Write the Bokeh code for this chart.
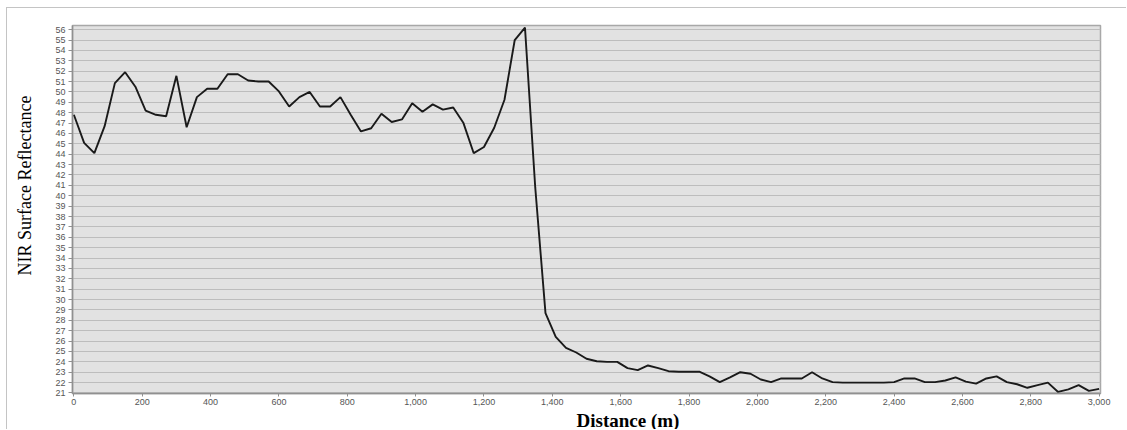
from bokeh.plotting import figure
from bokeh.models import Range1d, FixedTicker, NumeralTickFormatter, Title
from bokeh.embed import file_html
from bokeh.resources import INLINE

distance_m = [0, 30, 60, 90, 120, 150, 180, 210, 240, 270,
              300, 330, 360, 390, 420, 450, 480, 510, 540, 570,
              600, 630, 660, 690, 720, 750, 780, 810, 840, 870,
              900, 930, 960, 990, 1020, 1050, 1080, 1110, 1140, 1170,
              1200, 1230, 1260, 1290, 1320, 1350, 1380, 1410, 1440, 1470,
              1500, 1530, 1560, 1590, 1620, 1650, 1680, 1710, 1740, 1770,
              1800, 1830, 1860, 1890, 1920, 1950, 1980, 2010, 2040, 2070,
              2100, 2130, 2160, 2190, 2220, 2250, 2280, 2310, 2340, 2370,
              2400, 2430, 2460, 2490, 2520, 2550, 2580, 2610, 2640, 2670,
              2700, 2730, 2760, 2790, 2820, 2850, 2880, 2910, 2940, 2970,
              3000]

nir_reflectance = [47.8, 45.1, 44.1, 46.7, 50.85, 51.9, 50.5, 48.2, 47.8, 47.66,
                   51.55, 46.6, 49.5, 50.3, 50.3, 51.7, 51.7, 51.1, 51.0, 51.0,
                   50.05, 48.6, 49.5, 50.0, 48.6, 48.6, 49.5, 47.8, 46.2, 46.5,
                   47.9, 47.1, 47.35, 48.9, 48.1, 48.8, 48.3, 48.5, 47.0, 44.1,
                   44.7, 46.55, 49.25, 55.0, 56.2, 40.8, 28.7, 26.4, 25.35, 24.9,
                   24.3, 24.06, 24.0, 24.0, 23.4, 23.2, 23.65, 23.4, 23.1, 23.05,
                   23.05, 23.05, 22.6, 22.05, 22.5, 23.0, 22.85, 22.3, 22.05, 22.4,
                   22.4, 22.4, 23.0, 22.4, 22.05, 22.0, 22.0, 22.0, 22.0, 22.0,
                   22.05, 22.4, 22.4, 22.05, 22.05, 22.2, 22.5, 22.1, 21.9, 22.4,
                   22.6, 22.05, 21.84, 21.5, 21.75, 22.0, 21.1, 21.35, 21.75, 21.2,
                   21.4]

y_ticks = list(range(21, 57))
x_ticks = list(range(0, 3001, 200))

p = figure(width=1120, height=422, output_backend="svg", toolbar_location=None,
           x_range=Range1d(-4, 3004), y_range=Range1d(20.95, 56.4),
           min_border_left=65, min_border_right=27, min_border_top=17, min_border_bottom=33)

p.styles = {"margin-left": "6px", "margin-top": "7px",
            "border-top": "1px solid #c4c4c4", "border-left": "1px solid #c4c4c4"}

p.background_fill_color = "#e2e2e2"
p.border_fill_color = "white"
p.outline_line_color = "#a8a8a8"
p.outline_line_width = 1.5

p.line(distance_m, nir_reflectance, line_color="#1a1a1a", line_width=1.9)

p.xgrid.grid_line_color = None
p.ygrid.ticker = FixedTicker(ticks=y_ticks)
p.ygrid.grid_line_color = "#bdbdbd"
p.ygrid.grid_line_width = 1

p.yaxis.ticker = FixedTicker(ticks=y_ticks)
p.xaxis.ticker = FixedTicker(ticks=x_ticks)
p.xaxis.formatter = NumeralTickFormatter(format="0,0")

for ax in (p.xaxis[0], p.yaxis[0]):
    ax.axis_line_color = "#909090"
    ax.axis_line_width = 1.5
    ax.major_tick_line_color = "#909090"
    ax.major_tick_out = 4
    ax.major_tick_in = 0
    ax.minor_tick_line_color = None
    ax.major_label_text_font = "Liberation Sans"
    ax.major_label_text_font_size = "9px"
    ax.major_label_text_color = "#555555"
    ax.major_label_standoff = 3

p.xaxis.major_tick_out = 3
p.xaxis.major_label_standoff = 2

# blank spacer label to push the left title outward
p.yaxis.axis_label = " "
p.yaxis.axis_label_text_font_size = "13px"
p.yaxis.axis_label_standoff = 0

x_title = Title(text="Distance (m)", align="left", offset=504,
                text_font="Liberation Serif", text_font_style="bold",
                text_font_size="19px", text_color="black", standoff=0)
p.add_layout(x_title, "below")

y_title = Title(text="NIR Surface Reflectance", align="right", offset=70,
                text_font="Liberation Serif", text_font_style="normal",
                text_font_size="18px", text_color="black", standoff=0)
p.add_layout(y_title, "left")

open("out.html", "w").write(file_html(p, INLINE))
